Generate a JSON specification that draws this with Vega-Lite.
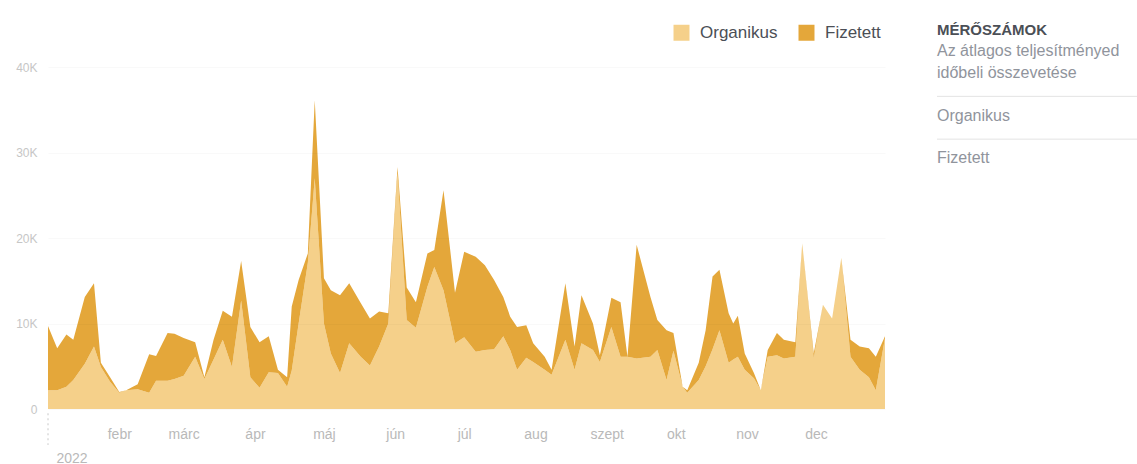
{
  "$schema": "https://vega.github.io/schema/vega-lite/v6.json",
  "padding": {"left": 15, "top": 20, "right": 0, "bottom": 0},
  "background": "white",
  "spacing": 51,
  "config": {"view": {"stroke": null}, "font": "Liberation Sans"},
  "hconcat": [
    {
      "width": 837,
      "height": 389,
      "layer": [
        {
          "data": {"values": [
            {"date": "2022-01-01", "Organikus": 2200, "Fizetett": 7500},
            {"date": "2022-01-05", "Organikus": 2200, "Fizetett": 4900},
            {"date": "2022-01-09", "Organikus": 2600, "Fizetett": 6100},
            {"date": "2022-01-12", "Organikus": 3400, "Fizetett": 4700},
            {"date": "2022-01-17", "Organikus": 5300, "Fizetett": 7800},
            {"date": "2022-01-21", "Organikus": 7300, "Fizetett": 7400},
            {"date": "2022-01-24", "Organikus": 4900, "Fizetett": 500},
            {"date": "2022-01-28", "Organikus": 3200, "Fizetett": 500},
            {"date": "2022-02-01", "Organikus": 1900, "Fizetett": 100},
            {"date": "2022-02-04", "Organikus": 2200, "Fizetett": 0},
            {"date": "2022-02-09", "Organikus": 2300, "Fizetett": 600},
            {"date": "2022-02-14", "Organikus": 1900, "Fizetett": 4500},
            {"date": "2022-02-17", "Organikus": 3300, "Fizetett": 2900},
            {"date": "2022-02-22", "Organikus": 3300, "Fizetett": 5600},
            {"date": "2022-02-25", "Organikus": 3500, "Fizetett": 5300},
            {"date": "2022-03-01", "Organikus": 3900, "Fizetett": 4400},
            {"date": "2022-03-06", "Organikus": 6100, "Fizetett": 1700},
            {"date": "2022-03-10", "Organikus": 3500, "Fizetett": 200},
            {"date": "2022-03-14", "Organikus": 5800, "Fizetett": 2300},
            {"date": "2022-03-18", "Organikus": 8100, "Fizetett": 3400},
            {"date": "2022-03-22", "Organikus": 4900, "Fizetett": 5900},
            {"date": "2022-03-26", "Organikus": 12700, "Fizetett": 4600},
            {"date": "2022-03-30", "Organikus": 3700, "Fizetett": 5900},
            {"date": "2022-04-03", "Organikus": 2500, "Fizetett": 5300},
            {"date": "2022-04-07", "Organikus": 4300, "Fizetett": 4200},
            {"date": "2022-04-11", "Organikus": 4200, "Fizetett": 400},
            {"date": "2022-04-15", "Organikus": 2600, "Fizetett": 1100},
            {"date": "2022-04-17", "Organikus": 4500, "Fizetett": 7500},
            {"date": "2022-04-20", "Organikus": 10000, "Fizetett": 5100},
            {"date": "2022-04-24", "Organikus": 17100, "Fizetett": 1100},
            {"date": "2022-04-27", "Organikus": 27000, "Fizetett": 9100},
            {"date": "2022-05-01", "Organikus": 10000, "Fizetett": 5300},
            {"date": "2022-05-04", "Organikus": 6500, "Fizetett": 7400},
            {"date": "2022-05-08", "Organikus": 4200, "Fizetett": 9100},
            {"date": "2022-05-12", "Organikus": 7700, "Fizetett": 7000},
            {"date": "2022-05-17", "Organikus": 6100, "Fizetett": 6300},
            {"date": "2022-05-21", "Organikus": 5100, "Fizetett": 5500},
            {"date": "2022-05-25", "Organikus": 7300, "Fizetett": 4100},
            {"date": "2022-05-29", "Organikus": 10000, "Fizetett": 1200},
            {"date": "2022-06-02", "Organikus": 27600, "Fizetett": 700},
            {"date": "2022-06-06", "Organikus": 10400, "Fizetett": 3800},
            {"date": "2022-06-10", "Organikus": 9500, "Fizetett": 3000},
            {"date": "2022-06-15", "Organikus": 14300, "Fizetett": 3900},
            {"date": "2022-06-18", "Organikus": 16600, "Fizetett": 2000},
            {"date": "2022-06-22", "Organikus": 13900, "Fizetett": 11700},
            {"date": "2022-06-27", "Organikus": 7700, "Fizetett": 5900},
            {"date": "2022-07-01", "Organikus": 8400, "Fizetett": 10000},
            {"date": "2022-07-06", "Organikus": 6700, "Fizetett": 11100},
            {"date": "2022-07-10", "Organikus": 6900, "Fizetett": 9900},
            {"date": "2022-07-14", "Organikus": 7000, "Fizetett": 8100},
            {"date": "2022-07-18", "Organikus": 8500, "Fizetett": 4600},
            {"date": "2022-07-21", "Organikus": 6900, "Fizetett": 3900},
            {"date": "2022-07-24", "Organikus": 4600, "Fizetett": 5000},
            {"date": "2022-07-28", "Organikus": 6000, "Fizetett": 3800},
            {"date": "2022-07-31", "Organikus": 5500, "Fizetett": 2200},
            {"date": "2022-08-05", "Organikus": 4600, "Fizetett": 1500},
            {"date": "2022-08-08", "Organikus": 4000, "Fizetett": 600},
            {"date": "2022-08-14", "Organikus": 8100, "Fizetett": 6600},
            {"date": "2022-08-18", "Organikus": 4600, "Fizetett": 2700},
            {"date": "2022-08-21", "Organikus": 7700, "Fizetett": 5600},
            {"date": "2022-08-26", "Organikus": 6900, "Fizetett": 3100},
            {"date": "2022-08-29", "Organikus": 5500, "Fizetett": 800},
            {"date": "2022-09-03", "Organikus": 9600, "Fizetett": 3400},
            {"date": "2022-09-07", "Organikus": 6100, "Fizetett": 6400},
            {"date": "2022-09-10", "Organikus": 6100, "Fizetett": 0},
            {"date": "2022-09-14", "Organikus": 5900, "Fizetett": 13300},
            {"date": "2022-09-20", "Organikus": 6100, "Fizetett": 7000},
            {"date": "2022-09-23", "Organikus": 6900, "Fizetett": 3500},
            {"date": "2022-09-27", "Organikus": 3400, "Fizetett": 5800},
            {"date": "2022-09-30", "Organikus": 6800, "Fizetett": 2100},
            {"date": "2022-10-04", "Organikus": 2600, "Fizetett": 0},
            {"date": "2022-10-06", "Organikus": 1900, "Fizetett": 300},
            {"date": "2022-10-11", "Organikus": 3400, "Fizetett": 2000},
            {"date": "2022-10-14", "Organikus": 5000, "Fizetett": 4200},
            {"date": "2022-10-17", "Organikus": 7000, "Fizetett": 8500},
            {"date": "2022-10-20", "Organikus": 9200, "Fizetett": 7100},
            {"date": "2022-10-24", "Organikus": 5400, "Fizetett": 5800},
            {"date": "2022-10-26", "Organikus": 5800, "Fizetett": 4200},
            {"date": "2022-10-28", "Organikus": 6100, "Fizetett": 4800},
            {"date": "2022-10-31", "Organikus": 4600, "Fizetett": 1900},
            {"date": "2022-11-04", "Organikus": 3600, "Fizetett": 600},
            {"date": "2022-11-07", "Organikus": 2200, "Fizetett": 0},
            {"date": "2022-11-10", "Organikus": 6100, "Fizetett": 800},
            {"date": "2022-11-14", "Organikus": 6300, "Fizetett": 2600},
            {"date": "2022-11-17", "Organikus": 5900, "Fizetett": 2200},
            {"date": "2022-11-22", "Organikus": 6100, "Fizetett": 1700},
            {"date": "2022-11-25", "Organikus": 19400, "Fizetett": 0},
            {"date": "2022-11-30", "Organikus": 5900, "Fizetett": 600},
            {"date": "2022-12-04", "Organikus": 12200, "Fizetett": 0},
            {"date": "2022-12-08", "Organikus": 10600, "Fizetett": 0},
            {"date": "2022-12-12", "Organikus": 17700, "Fizetett": 0},
            {"date": "2022-12-16", "Organikus": 6100, "Fizetett": 2000},
            {"date": "2022-12-20", "Organikus": 4600, "Fizetett": 2700},
            {"date": "2022-12-24", "Organikus": 3700, "Fizetett": 3400},
            {"date": "2022-12-27", "Organikus": 2200, "Fizetett": 3900},
            {"date": "2022-12-31", "Organikus": 8300, "Fizetett": 200}
          ]},
          "transform": [{"fold": ["Organikus", "Fizetett"], "as": ["series", "value"]}],
          "mark": {"type": "area", "interpolate": "linear"},
          "encoding": {
            "x": {
              "field": "date", "type": "temporal",
              "scale": {"type": "utc", "domain": [{"year": 2022, "month": 1, "date": 1, "utc": true}, {"year": 2022, "month": 12, "date": 31, "utc": true}]},
              "axis": {
                "title": null,
                "values": [
                  {"year": 2022, "month": 1, "date": 1, "utc": true},
                  {"year": 2022, "month": 2, "date": 1, "utc": true},
                  {"year": 2022, "month": 3, "date": 1, "utc": true},
                  {"year": 2022, "month": 4, "date": 1, "utc": true},
                  {"year": 2022, "month": 5, "date": 1, "utc": true},
                  {"year": 2022, "month": 6, "date": 1, "utc": true},
                  {"year": 2022, "month": 7, "date": 1, "utc": true},
                  {"year": 2022, "month": 8, "date": 1, "utc": true},
                  {"year": 2022, "month": 9, "date": 1, "utc": true},
                  {"year": 2022, "month": 10, "date": 1, "utc": true},
                  {"year": 2022, "month": 11, "date": 1, "utc": true},
                  {"year": 2022, "month": 12, "date": 1, "utc": true}
                ],
                "labelExpr": "utcmonth(datum.value) == 0 ? ['', '2022'] : ['febr','márc','ápr','máj','jún','júl','aug','szept','okt','nov','dec'][utcmonth(datum.value) - 1]",
                "labelAlign": {"condition": {"test": "utcmonth(datum.value) == 0", "value": "left"}, "value": "center"},
                "labelOffset": {"condition": {"test": "utcmonth(datum.value) == 0", "value": 8}, "value": 0},
                "labelFontSize": 14,
                "labelColor": "#b9b9b9",
                "labelPadding": 18,
                "labelLineHeight": 24,
                "labelOverlap": false,
                "labelFlush": false,
                "domain": false,
                "ticks": false,
                "grid": false
              }
            },
            "y": {
              "field": "value", "type": "quantitative", "stack": "zero",
              "scale": {"domain": [0, 45500], "nice": false},
              "axis": {
                "title": null,
                "values": [0, 10000, 20000, 30000, 40000],
                "labelExpr": "datum.value == 0 ? '0' : (datum.value / 1000) + 'K'",
                "labelFontSize": 12,
                "labelColor": "#c6c6c6",
                "labelPadding": 11,
                "domain": false,
                "ticks": false,
                "grid": true,
                "gridColor": "#000000",
                "gridOpacity": 0.025,
                "zindex": 1
              }
            },
            "color": {
              "field": "series", "type": "nominal",
              "scale": {"domain": ["Organikus", "Fizetett"], "range": ["#F5D08A", "#E4A73A"]},
              "legend": {
                "title": null,
                "orient": "none",
                "legendX": 625,
                "legendY": 4,
                "direction": "horizontal",
                "symbolType": "square",
                "symbolSize": 256,
                "symbolStrokeWidth": 0,
                "symbolOpacity": 1,
                "labelFontSize": 17,
                "labelColor": "#4b4f56",
                "labelOffset": 10,
                "columnPadding": 20,
                "padding": 0
              }
            },
            "order": {"field": "series", "sort": "descending"}
          }
        },
        {
          "data": {"values": [{"marker": "2022"}]},
          "mark": {"type": "rule", "color": "#c8c8c8", "strokeDash": [2, 3], "strokeWidth": 1},
          "encoding": {
            "x": {"datum": {"year": 2022, "month": 1, "date": 1, "utc": true}, "type": "temporal"},
            "y": {"datum": -500},
            "y2": {"datum": -4200}
          }
        }
      ]
    },
    {
      "width": 202,
      "height": 389,
      "data": {"values": [
        {"line": 0, "kind": "head", "text": "MÉRŐSZÁMOK"},
        {"line": 1, "kind": "sub", "text": "Az átlagos teljesítményed"},
        {"line": 2, "kind": "sub", "text": "időbeli összevetése"},
        {"line": 3.1, "kind": "sep", "text": ""},
        {"line": 4, "kind": "item", "text": "Organikus"},
        {"line": 5.1, "kind": "sep", "text": ""},
        {"line": 6, "kind": "item", "text": "Fizetett"}
      ]},
      "encoding": {
        "y": {"field": "line", "type": "quantitative", "scale": {"domain": [-0.467, 17.71], "reverse": true, "nice": false, "zero": false}, "axis": null}
      },
      "layer": [
        {
          "transform": [{"filter": "datum.kind == 'head'"}],
          "mark": {"type": "text", "align": "left", "baseline": "middle", "fontSize": 15, "fontWeight": "bold", "color": "#4b4f56"},
          "encoding": {
            "x": {"datum": 0, "type": "quantitative", "scale": {"domain": [0, 1], "nice": false}, "axis": null},
            "text": {"field": "text"}
          }
        },
        {
          "transform": [{"filter": "datum.kind == 'sub' || datum.kind == 'item'"}],
          "mark": {"type": "text", "align": "left", "baseline": "middle", "fontSize": 16, "color": "#90949c"},
          "encoding": {
            "x": {"datum": 0, "type": "quantitative"},
            "text": {"field": "text"}
          }
        },
        {
          "transform": [{"filter": "datum.kind == 'sep'"}],
          "mark": {"type": "rule", "color": "#e3e3e3", "strokeWidth": 1},
          "encoding": {
            "x": {"datum": 0, "type": "quantitative"},
            "x2": {"datum": 1}
          }
        }
      ]
    }
  ]
}
